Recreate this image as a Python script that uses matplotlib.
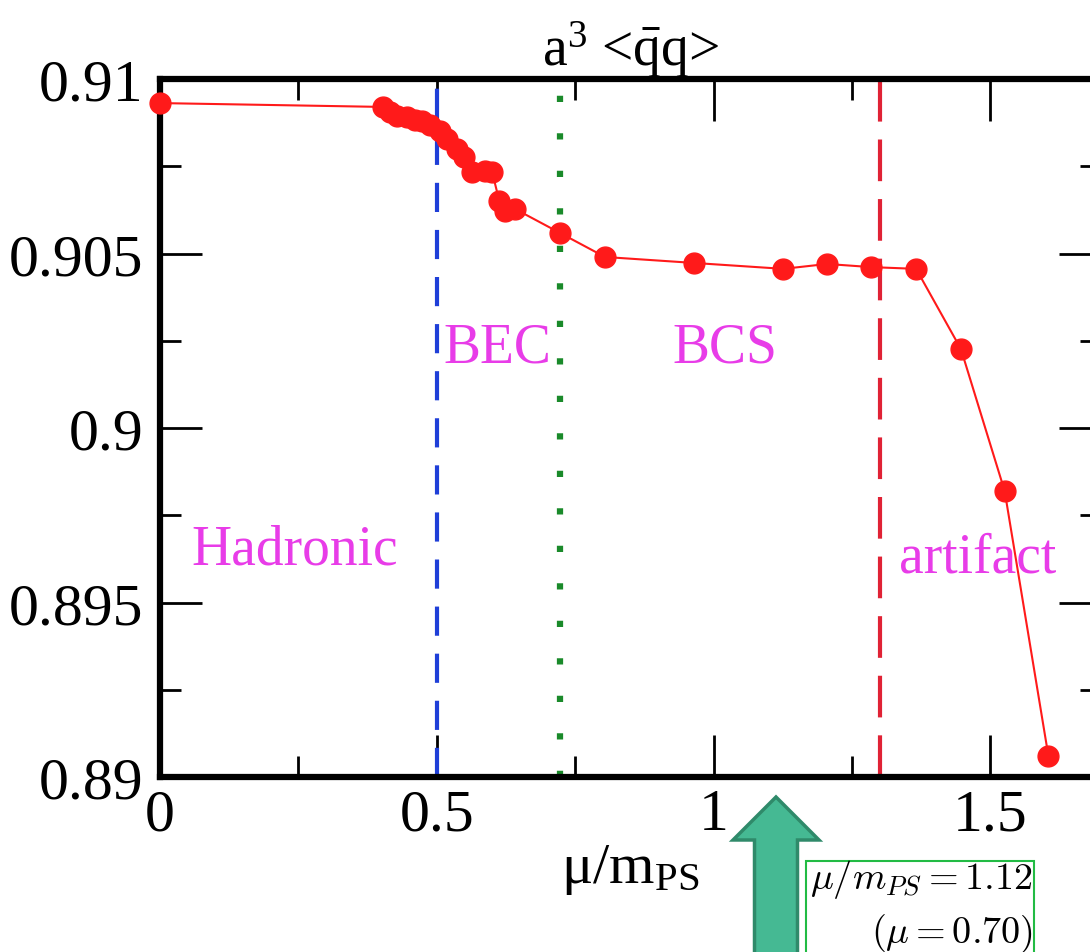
import matplotlib
matplotlib.use('Agg')
import matplotlib.pyplot as plt
import matplotlib.patches as patches
from matplotlib.ticker import MultipleLocator, FixedLocator

plt.rcParams['font.family'] = ['Liberation Serif', 'DejaVu Serif']
plt.rcParams['mathtext.fontset'] = 'custom'
plt.rcParams['mathtext.rm'] = 'Liberation Serif'
plt.rcParams['mathtext.it'] = 'Liberation Serif:italic'

# Data
mu_over_mps = [0.0, 0.402, 0.416, 0.429, 0.447, 0.460, 0.474, 0.488, 0.506,
               0.519, 0.537, 0.550, 0.564, 0.587, 0.600, 0.613, 0.623, 0.641,
               0.7225, 0.804, 0.964, 1.126, 1.205, 1.285, 1.366, 1.447, 1.526,
               1.605]
condensate = [0.90931, 0.90920, 0.90905, 0.90894, 0.90891, 0.90883, 0.90880,
              0.90868, 0.90851, 0.90828, 0.90799, 0.90776, 0.90734, 0.90736,
              0.90734, 0.90650, 0.90622, 0.90628, 0.90559, 0.90490, 0.90473,
              0.90456, 0.90470, 0.90461, 0.90456, 0.90226, 0.89819, 0.89060]

boundaries = [0.5, 0.7225, 1.3]
xticks = [0, 0.5, 1, 1.5]
xticklabels = ['0', '0.5', '1', '1.5']
yticks = [0.89, 0.895, 0.9, 0.905, 0.91]
yticklabels = ['0.89', '0.895', '0.9', '0.905', '0.91']
regions = ['Hadronic', 'BEC', 'BCS', 'artifact']
region_x = [0.244, 0.609, 1.021, 1.478]
region_y = [0.89653, 0.90232, 0.90232, 0.89630]

fig = plt.figure(figsize=(10.9, 9.53), dpi=100)
ax = fig.add_axes([160 / 1090, 175 / 953, 941 / 1090, 698 / 953])

ax.plot(mu_over_mps, condensate, color='#ff1a1a', lw=1.5, marker='o',
        markersize=15, zorder=3, clip_on=False)

ax.axvline(boundaries[0], color='#1f3fd8', lw=3, dashes=(7, 4.3), zorder=2)
ax.axvline(boundaries[1], color='#1a8a2a', lw=4.5, dashes=(1, 5), zorder=2)
ax.axvline(boundaries[2], color='#e02235', lw=3, dashes=(10, 4.3), zorder=2)

for name, x, y in zip(regions, region_x, region_y):
    ax.text(x, y, name, color='#e83ce8', fontsize=40, ha='center', va='center')

ax.set_xlim(0, 1.7)
ax.set_ylim(0.89, 0.91)
ax.xaxis.set_major_locator(FixedLocator(xticks))
ax.set_xticklabels(xticklabels)
ax.yaxis.set_major_locator(FixedLocator(yticks))
ax.set_yticklabels(yticklabels)
ax.xaxis.set_minor_locator(MultipleLocator(0.25))
ax.yaxis.set_minor_locator(MultipleLocator(0.0025))
ax.tick_params(which='both', direction='in', top=True, right=True,
               labelsize=43, width=2)
ax.tick_params(which='major', length=30)
ax.tick_params(which='minor', length=15)
ax.tick_params(axis='x', pad=8)
ax.tick_params(axis='y', pad=12)
for s in ax.spines.values():
    s.set_linewidth(4.5)

ax.set_title(r'a$^{3}$ <$\bar{\mathrm{q}}$q>', fontsize=40, pad=10)
ax.set_xlabel(r'$\mathrm{\mu/m_{PS}}$', fontsize=42, labelpad=0)

# green arrow and note below the axis
arrow = patches.FancyArrow(7.76, -0.2, 0, 1.75, width=0.43, head_width=0.86,
                           head_length=0.43, length_includes_head=True,
                           fc='#45b993', ec='#2f8a6a', lw=2.5,
                           transform=fig.dpi_scale_trans)
fig.add_artist(arrow)
box = patches.Rectangle((8.06, -0.2), 2.28, 1.11, fill=False,
                        ec='#22bb44', lw=1.5, transform=fig.dpi_scale_trans)
fig.add_artist(box)
fig.text(10.33, 0.64, r'$\mu/m_{PS} = 1.12$', fontsize=27.5, ha='right',
         va='baseline', math_fontfamily='cm', transform=fig.dpi_scale_trans)
fig.text(10.33, 0.10, r'$(\mu = 0.70)$', fontsize=27.5, ha='right',
         va='baseline', math_fontfamily='cm', transform=fig.dpi_scale_trans)

fig.savefig('out.png', dpi=100)
